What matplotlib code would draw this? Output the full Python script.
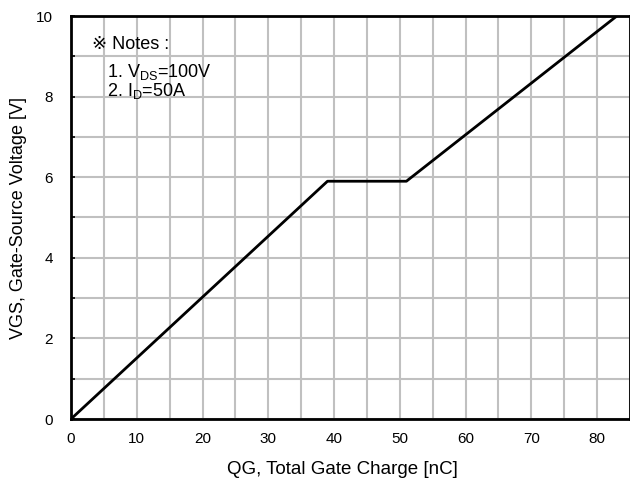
import matplotlib
matplotlib.use('Agg')
import matplotlib.pyplot as plt
from matplotlib.ticker import MultipleLocator

plt.rcParams['font.family'] = ['Liberation Sans', 'DejaVu Sans']
plt.rcParams['mathtext.fontset'] = 'custom'
plt.rcParams['mathtext.rm'] = 'Liberation Sans'
plt.rcParams['mathtext.it'] = 'Liberation Sans'

# gate charge curve corners
qg = [0, 39, 51, 83]
vgs = [0, 5.9, 5.9, 10]

x_ticks = [0, 10, 20, 30, 40, 50, 60, 70, 80]
y_ticks = [0, 2, 4, 6, 8, 10]

fig = plt.figure(figsize=(6.3, 4.86), dpi=100)
ax = fig.add_axes([71/630, 1 - 419/486, 559/630, 403/486])

ax.plot(qg, vgs, color='black', linewidth=2, zorder=3)

ax.set_xlim(0, 85)
ax.set_ylim(0, 10)
ax.set_xticks(x_ticks)
ax.set_yticks(y_ticks)
ax.xaxis.set_minor_locator(MultipleLocator(5))
ax.yaxis.set_minor_locator(MultipleLocator(1))
ax.grid(True, which='both', color='#c0c0c0', linewidth=1.5, zorder=1)
ax.tick_params(which='both', direction='in', length=3, width=1.2, labelsize=11)
ax.tick_params(axis='y', which='both', pad=13)
ax.tick_params(axis='x', which='both', length=0, pad=9)
for s in ax.spines.values():
    s.set_linewidth(2)
    s.set_zorder(4)

ax.set_xlabel('QG, Total Gate Charge [nC]', fontsize=13.5)
ax.set_ylabel('VGS, Gate-Source Voltage [V]', fontsize=13)
ax.xaxis.set_label_coords(0.485, -0.105)
ax.yaxis.set_label_coords(-0.078, 0.5)

ax.text(3.2, 9.3, '※ Notes :', fontsize=13, va='center', ha='left')
ax.text(5.5, 8.62, '1. V$_{\\mathrm{DS}}$=100V', fontsize=13, va='center', ha='left')
ax.text(5.5, 8.13, '2. I$_{\\mathrm{D}}$=50A', fontsize=13, va='center', ha='left')

fig.savefig('out.png', dpi=100)
